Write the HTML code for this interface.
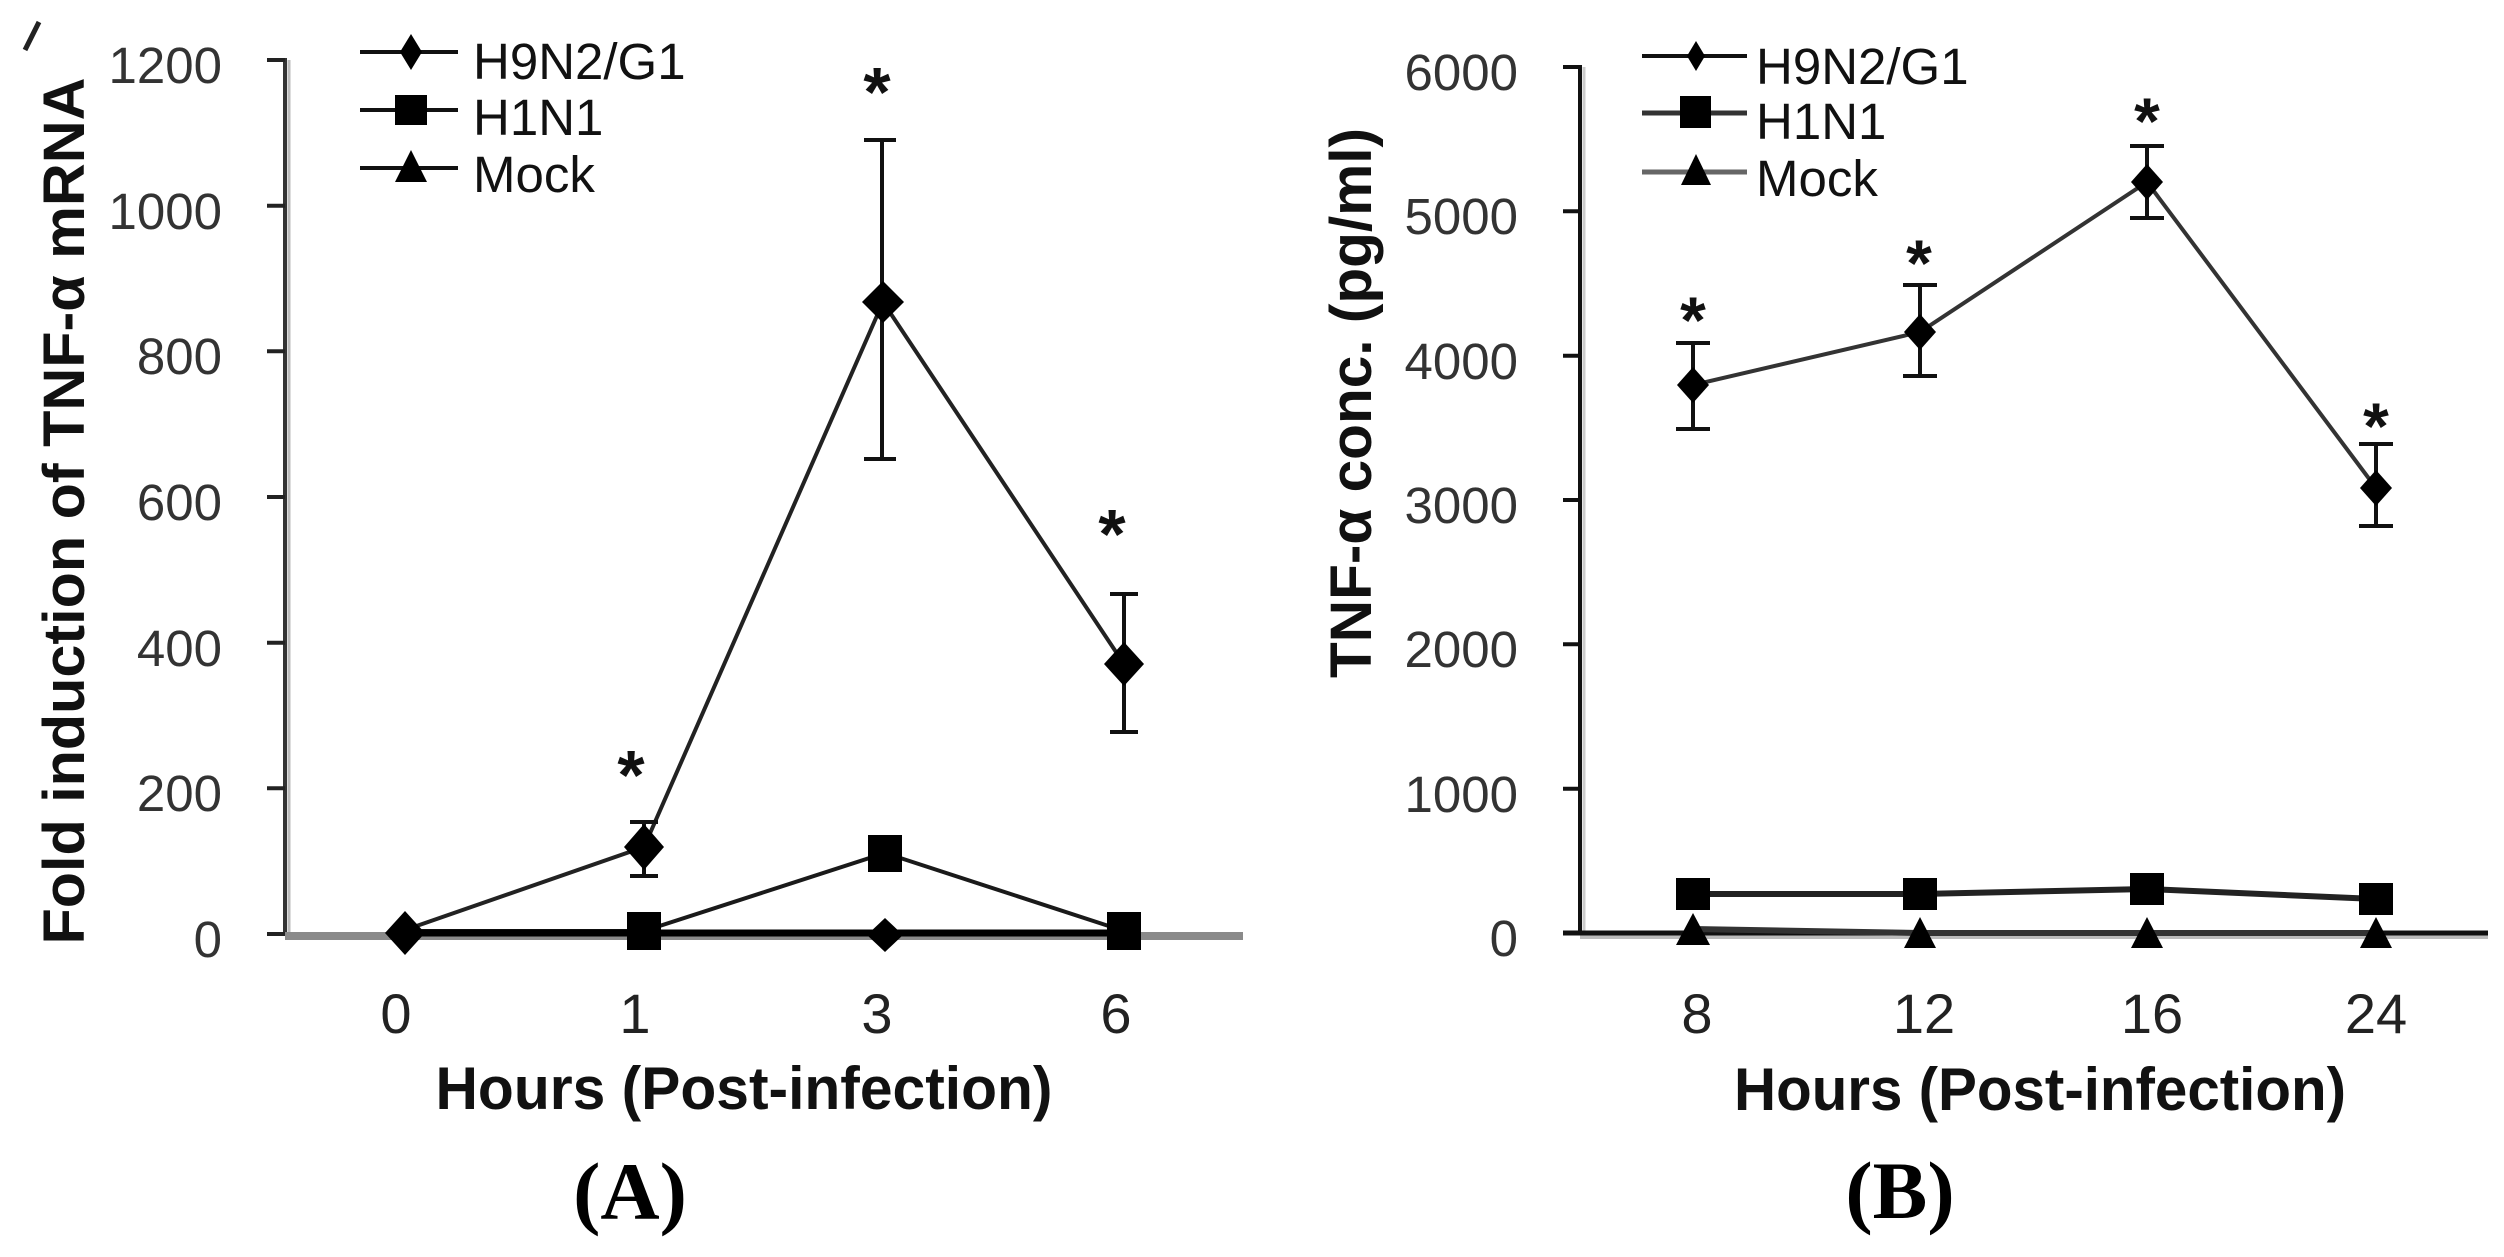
<!DOCTYPE html>
<html><head><meta charset="utf-8"><style>
html,body{margin:0;padding:0;background:#fff;}
svg{display:block;}
text{font-family:"Liberation Sans",Arial,sans-serif;}
.tl{font-size:51px;fill:#333;text-anchor:end;}
.xl{font-size:56px;fill:#222;text-anchor:middle;}
.lg{font-size:51px;fill:#111;}
.ttl{font-size:58px;font-weight:bold;fill:#111;}
.st{font-size:70px;font-weight:bold;fill:#111;text-anchor:middle;}
.pl{font-family:"Liberation Serif","Times New Roman",serif;font-size:82px;font-weight:bold;fill:#000;text-anchor:middle;}
</style></head><body>
<svg width="2504" height="1257" viewBox="0 0 2504 1257" xmlns="http://www.w3.org/2000/svg">
<rect width="2504" height="1257" fill="#fff"/>
<line x1="39" y1="22" x2="25" y2="50" stroke="#222" stroke-width="5"/>
<g>
<text class="ttl" transform="translate(84,511) rotate(-90)" text-anchor="middle" textLength="867" lengthAdjust="spacingAndGlyphs">Fold induction of TNF-α mRNA</text>
<line x1="289" y1="60" x2="289" y2="936" stroke="#bbb" stroke-width="3"/>
<line x1="285" y1="58" x2="285" y2="936" stroke="#333" stroke-width="4"/>
<g stroke="#222" stroke-width="4">
<line x1="267" y1="934" x2="285" y2="934"/><line x1="267" y1="788.3" x2="285" y2="788.3"/><line x1="267" y1="642.7" x2="285" y2="642.7"/><line x1="267" y1="497" x2="285" y2="497"/><line x1="267" y1="351.3" x2="285" y2="351.3"/><line x1="267" y1="205.7" x2="285" y2="205.7"/><line x1="267" y1="60" x2="285" y2="60"/>
</g>
<text class="tl" x="222" y="957">0</text><text class="tl" x="222" y="811">200</text><text class="tl" x="222" y="666">400</text><text class="tl" x="222" y="520">600</text><text class="tl" x="222" y="374">800</text><text class="tl" x="222" y="229">1000</text><text class="tl" x="222" y="83">1200</text>
<line x1="285" y1="936" x2="1243" y2="936" stroke="#8a8a8a" stroke-width="8"/>
<polyline points="405,931 644,931 885,853 1124,931" fill="none" stroke="#1a1a1a" stroke-width="4"/>
<line x1="405" y1="933" x2="1124" y2="933" stroke="#000" stroke-width="7"/>
<polyline points="405,930 644,847 883,302 1124,664" fill="none" stroke="#222" stroke-width="4"/>
<g stroke="#111" stroke-width="4">
<line x1="644" y1="822" x2="644" y2="876"/><line x1="630" y1="822" x2="658" y2="822"/><line x1="630" y1="876" x2="658" y2="876"/>
<line x1="882" y1="140" x2="882" y2="459"/><line x1="864" y1="140" x2="896" y2="140"/><line x1="864" y1="459" x2="896" y2="459"/>
<line x1="1124" y1="594" x2="1124" y2="732"/><line x1="1110" y1="594" x2="1138" y2="594"/><line x1="1110" y1="732" x2="1138" y2="732"/>
</g>
<g fill="#000">
<polygon points="885,918 903,935 885,952 867,935"/>
<polygon points="405,911 425,933 405,955 385,933"/>
<rect x="627" y="912" width="34" height="38"/>
<rect x="868" y="835" width="34" height="37"/>
<rect x="1107" y="912" width="34" height="38"/>
<polygon points="644,824 664,847 644,870 624,847"/>
<polygon points="883,281 904,302 883,323 862,302"/>
<polygon points="1124,642 1144,664 1124,686 1104,664"/>
</g>
<text class="st" x="631" y="799">*</text>
<text class="st" x="877" y="116">*</text>
<text class="st" x="1112" y="558">*</text>
<text class="xl" x="396" y="1033">0</text><text class="xl" x="635" y="1033">1</text><text class="xl" x="877" y="1033">3</text><text class="xl" x="1116" y="1033">6</text>
<text class="ttl" x="744" y="1109" text-anchor="middle" textLength="617" lengthAdjust="spacingAndGlyphs" style="font-size:60px">Hours (Post-infection)</text>
<text class="pl" x="630" y="1219">(A)</text>
<g stroke="#111" stroke-width="4">
<line x1="360" y1="52" x2="458" y2="52"/><line x1="360" y1="110" x2="458" y2="110"/><line x1="360" y1="168" x2="458" y2="168"/>
</g>
<polygon points="411,34 422,52 411,70 400,52" fill="#000"/>
<rect x="395" y="95" width="32" height="30" fill="#000"/>
<polygon points="411,150 427,182 395,182" fill="#000"/>
<text class="lg" x="473" y="79">H9N2/G1</text>
<text class="lg" x="473" y="135">H1N1</text>
<text class="lg" x="473" y="192">Mock</text>
</g>
<g>
<text class="ttl" transform="translate(1371,403) rotate(-90)" text-anchor="middle" textLength="550" lengthAdjust="spacingAndGlyphs">TNF-α conc. (pg/ml)</text>
<line x1="1584" y1="67" x2="1584" y2="933" stroke="#ccc" stroke-width="3"/>
<line x1="1580" y1="65" x2="1580" y2="935" stroke="#111" stroke-width="4"/>
<g stroke="#111" stroke-width="4">
<line x1="1563" y1="788.7" x2="1580" y2="788.7"/><line x1="1563" y1="644.3" x2="1580" y2="644.3"/><line x1="1563" y1="500" x2="1580" y2="500"/><line x1="1563" y1="355.7" x2="1580" y2="355.7"/><line x1="1563" y1="211.3" x2="1580" y2="211.3"/><line x1="1563" y1="67" x2="1580" y2="67"/>
</g>
<text class="tl" x="1518" y="956">0</text><text class="tl" x="1518" y="812">1000</text><text class="tl" x="1518" y="667">2000</text><text class="tl" x="1518" y="523">3000</text><text class="tl" x="1518" y="379">4000</text><text class="tl" x="1518" y="234">5000</text><text class="tl" x="1518" y="90">6000</text>
<line x1="1580" y1="937" x2="2488" y2="937" stroke="#bbb" stroke-width="4"/>
<line x1="1563" y1="933" x2="2488" y2="933" stroke="#111" stroke-width="5"/>
<polyline points="1693,929 1920,933 2147,933 2376,933" fill="none" stroke="#333" stroke-width="6"/>
<polyline points="1693,894 1920,894 2147,889 2376,899" fill="none" stroke="#222" stroke-width="6"/>
<polyline points="1693,385 1920,332 2147,182 2376,488" fill="none" stroke="#333" stroke-width="4"/>
<g stroke="#111" stroke-width="4">
<line x1="1693" y1="343" x2="1693" y2="429"/><line x1="1676" y1="343" x2="1710" y2="343"/><line x1="1676" y1="429" x2="1710" y2="429"/>
<line x1="1920" y1="285" x2="1920" y2="376"/><line x1="1903" y1="285" x2="1937" y2="285"/><line x1="1903" y1="376" x2="1937" y2="376"/>
<line x1="2147" y1="146" x2="2147" y2="218"/><line x1="2130" y1="146" x2="2164" y2="146"/><line x1="2130" y1="218" x2="2164" y2="218"/>
<line x1="2376" y1="444" x2="2376" y2="526"/><line x1="2359" y1="444" x2="2393" y2="444"/><line x1="2359" y1="526" x2="2393" y2="526"/>
</g>
<g fill="#000">
<polygon points="1693,913 1710,945 1676,945"/>
<polygon points="1920,917 1936,948 1904,948"/>
<polygon points="2147,917 2163,948 2131,948"/>
<polygon points="2376,917 2392,948 2360,948"/>
<rect x="1676" y="878" width="34" height="32"/>
<rect x="1903" y="878" width="34" height="32"/>
<rect x="2130" y="873" width="34" height="32"/>
<rect x="2359" y="883" width="34" height="32"/>
<polygon points="1693,367 1709,385 1693,403 1677,385"/>
<polygon points="1920,314 1936,332 1920,350 1904,332"/>
<polygon points="2147,164 2163,182 2147,200 2131,182"/>
<polygon points="2376,470 2392,488 2376,506 2360,488"/>
</g>
<text class="st" x="1693" y="343" style="font-size:66px">*</text>
<text class="st" x="1919" y="286" style="font-size:66px">*</text>
<text class="st" x="2147" y="144" style="font-size:66px">*</text>
<text class="st" x="2376" y="449" style="font-size:66px">*</text>
<text class="xl" x="1697" y="1033">8</text><text class="xl" x="1924" y="1033">12</text><text class="xl" x="2152" y="1033">16</text><text class="xl" x="2376" y="1033">24</text>
<text class="ttl" x="2040" y="1110" text-anchor="middle" textLength="612" lengthAdjust="spacingAndGlyphs" style="font-size:60px">Hours (Post-infection)</text>
<text class="pl" x="1900" y="1218">(B)</text>
<line x1="1642" y1="56" x2="1747" y2="56" stroke="#111" stroke-width="4"/>
<line x1="1642" y1="113" x2="1747" y2="113" stroke="#333" stroke-width="5"/>
<line x1="1642" y1="172" x2="1747" y2="172" stroke="#666" stroke-width="5"/>
<polygon points="1696,41 1705,56 1696,71 1687,56" fill="#000"/>
<rect x="1680" y="96" width="31" height="32" fill="#000"/>
<polygon points="1696,154 1711,185 1681,185" fill="#000"/>
<text class="lg" x="1756" y="84">H9N2/G1</text>
<text class="lg" x="1756" y="139">H1N1</text>
<text class="lg" x="1756" y="196">Mock</text>
</g>
</svg>
</body></html>
